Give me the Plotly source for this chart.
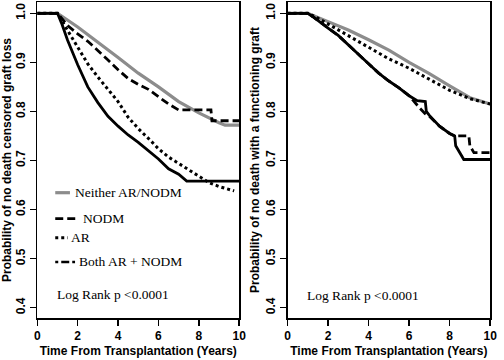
import plotly.graph_objects as go

# ---------------- data ----------------
# Left panel: death censored graft loss
L_neither_t = [0, 1, 2, 3, 4, 5, 6, 7, 8, 9, 9.3, 10]
L_neither_v = [1, 1, 0.972, 0.942, 0.91, 0.878, 0.85, 0.82, 0.797, 0.777, 0.772, 0.772]

L_nodm_t = [0, 1, 1.5, 2, 2.5, 3, 3.5, 4, 4.5, 5, 5.5, 6, 6.5, 7, 8.6, 8.65, 10]
L_nodm_v = [1, 1, 0.975, 0.958, 0.943, 0.925, 0.905, 0.885, 0.867, 0.855, 0.845, 0.83, 0.815, 0.803, 0.803, 0.781, 0.781]

L_ar_t = [0, 1, 1.5, 2, 2.5, 3, 3.5, 4, 4.5, 5, 5.5, 6, 6.5, 7, 7.5, 8, 8.5, 9, 9.5, 9.75]
L_ar_v = [1, 1, 0.965, 0.93, 0.897, 0.87, 0.845, 0.82, 0.788, 0.765, 0.745, 0.724, 0.707, 0.694, 0.68, 0.667, 0.655, 0.647, 0.641, 0.638]

L_both_t = [0, 1, 1.2, 1.5, 2, 2.5, 3, 3.5, 4, 4.5, 5, 5.5, 6, 6.5, 7, 7.4, 10]
L_both_v = [1, 1, 0.98, 0.945, 0.895, 0.85, 0.818, 0.79, 0.77, 0.752, 0.737, 0.72, 0.703, 0.683, 0.672, 0.658, 0.658]

# Right panel: no death with a functioning graft
R_neither_t = [0, 1, 2, 3, 4, 5, 6, 7, 8, 9, 10]
R_neither_v = [1, 1, 0.983, 0.966, 0.946, 0.925, 0.9, 0.877, 0.852, 0.828, 0.815]

R_ar_t = [0, 1, 1.5, 2, 3, 4, 5, 6, 7, 8, 9, 9.5, 10]
R_ar_v = [1, 1, 0.99, 0.978, 0.955, 0.93, 0.907, 0.888, 0.865, 0.843, 0.826, 0.82, 0.815]

R_both_t = [0, 1, 1.25, 1.5, 2, 2.5, 3, 3.5, 4, 4.5, 5, 5.5, 6, 6.4, 6.8, 6.85, 7, 7.5, 8, 8.25, 8.3, 8.7, 10]
R_both_v = [1, 1, 0.993, 0.985, 0.97, 0.955, 0.935, 0.915, 0.897, 0.878, 0.862, 0.848, 0.832, 0.822, 0.82, 0.8, 0.792, 0.77, 0.755, 0.75, 0.73, 0.702, 0.702]

R_nodm_t = [0, 1, 1.25, 1.5, 2, 2.5, 3, 3.5, 4, 4.5, 5, 5.5, 6, 6.5, 6.8, 7, 7.5, 8, 8.25, 8.95, 9.0, 9.2, 10]
R_nodm_v = [1, 1, 0.993, 0.985, 0.97, 0.955, 0.935, 0.915, 0.897, 0.878, 0.862, 0.848, 0.832, 0.808, 0.795, 0.79, 0.77, 0.755, 0.75, 0.75, 0.73, 0.716, 0.716]

legend_labels = ["Neither AR/NODM", "NODM", "AR", "Both AR + NODM"]
pvalue_text = "Log Rank p <0.0001"
x_title = "Time From Transplantation (Years)"
y_title_left = "Probability of no death censored graft loss"
y_title_right = "Probability of no death with a functioning graft"
x_ticks = [0, 2, 4, 6, 8, 10]
y_ticks = [0.4, 0.5, 0.6, 0.7, 0.8, 0.9, 1.0]

# ---------------- styles ----------------
GRAY = "#8c8c8c"
BLACK = "#000000"
st_neither = dict(color=GRAY, width=3.2)
st_nodm = dict(color=BLACK, width=2.8, dash="8px,4px")
st_ar = dict(color=BLACK, width=3, dash="dot")
st_both = dict(color=BLACK, width=2.8)

W, H = 504, 360
MT, MB = 1, 42

fig = go.Figure()

def add(t, v, style, xa, ya):
    fig.add_trace(go.Scatter(x=t, y=v, mode="lines", line=style,
                             xaxis=xa, yaxis=ya, showlegend=False,
                             hoverinfo="skip"))

add(L_neither_t, L_neither_v, st_neither, "x", "y")
add(L_nodm_t, L_nodm_v, st_nodm, "x", "y")
add(L_ar_t, L_ar_v, st_ar, "x", "y")
add(L_both_t, L_both_v, st_both, "x", "y")

add(R_neither_t, R_neither_v, st_neither, "x2", "y2")
add(R_ar_t, R_ar_v, st_ar, "x2", "y2")
add(R_nodm_t, R_nodm_v, st_nodm, "x2", "y2")
add(R_both_t, R_both_v, st_both, "x2", "y2")

bold12 = dict(family="Liberation Sans", size=12, color="black", weight="bold")

axis_common = dict(showline=True, linecolor="black", linewidth=1.5, mirror=True,
                   ticks="outside", ticklen=6, tickwidth=1.5, tickcolor="black",
                   showgrid=False, zeroline=False, tickfont=bold12)

xa = dict(axis_common, range=[0, 10], tickvals=x_ticks,
          title=dict(text=x_title, font=bold12, standoff=4))
ya = dict(axis_common, range=[0.379, 1.023], tickvals=y_ticks, tickformat=".1f", tickangle=-90)

fig.update_layout(
    width=W, height=H,
    margin=dict(l=0, r=0, t=MT, b=MB),
    paper_bgcolor="white", plot_bgcolor="white",
    xaxis=dict(xa, domain=[35 / W, 241 / W], anchor="y"),
    xaxis2=dict(xa, domain=[290.3 / W, 497 / W], anchor="y2"),
    yaxis=dict(ya, domain=[0, 1], anchor="x",
               title=dict(text=y_title_left, font=bold12, standoff=2)),
    yaxis2=dict(ya, domain=[0, 1], anchor="x2",
                title=dict(text=y_title_right, font=bold12, standoff=2)),
)

# pixel -> paper helpers (legend placement only)
def px(xp):
    return xp / W

def py(yp):
    return (H - MB - yp) / (H - MT - MB)

serif = dict(family="Liberation Serif", size=13.5, color="black")

legend_rows = [
    (legend_labels[0], 192.3, 53.3, 68.3, st_neither, 71),
    (legend_labels[1], 218.3, 53.3, 77, st_nodm, 80),
    (legend_labels[2], 237.5, 53.3, 66, st_ar, 67.5),
    (legend_labels[3], 261.7, 53.3, 73.5, dict(color=BLACK, width=2.5, dash="3px,3px,8px,3px"), 76),
]
for label, yy, x0, x1, style, xt in legend_rows:
    fig.add_shape(type="line", xref="paper", yref="paper",
                  x0=px(x0), x1=px(x1), y0=py(yy), y1=py(yy), line=style)
    fig.add_annotation(xref="paper", yref="paper", x=px(xt), y=py(yy),
                       text=label, showarrow=False, xanchor="left", yanchor="middle",
                       font=serif)

fig.add_annotation(xref="paper", yref="paper", x=px(53), y=py(294.5), text=pvalue_text,
                   showarrow=False, xanchor="left", yanchor="middle", font=serif)
fig.add_annotation(xref="paper", yref="paper", x=px(308.5), y=py(295), text=pvalue_text,
                   showarrow=False, xanchor="left", yanchor="middle", font=serif)

fig.write_html("out.html",
               config={"displayModeBar": False, "staticPlot": True},
               post_script="document.body.style.margin='0px';document.body.style.overflow='hidden';")
